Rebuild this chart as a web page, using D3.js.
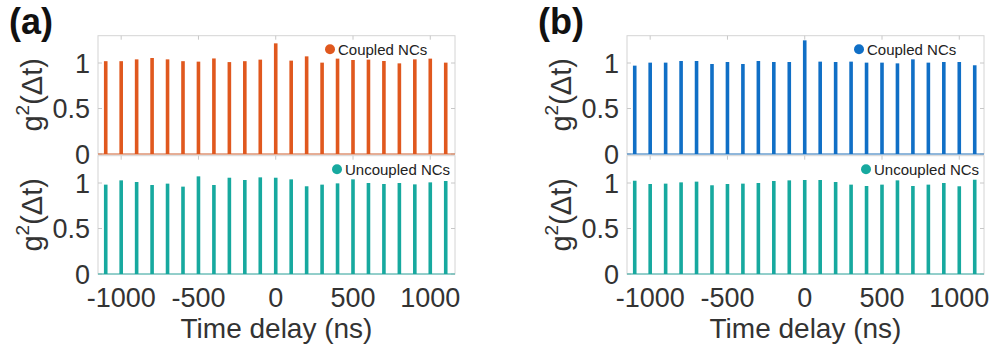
<!DOCTYPE html>
<html>
<head>
<meta charset="utf-8">
<script src="https://cdn.jsdelivr.net/npm/d3@7"></script>
<style>
  body { margin: 0; background: #fff; }
  text { font-family: "Liberation Sans", Arial, sans-serif; }
</style>
</head>
<body>
<div id="chart"></div>
<script>
// time delays of the peaks (ns)
const delays = [-1100, -1000, -900, -800, -700, -600, -500, -400, -300, -200, -100, 0,
                100, 200, 300, 400, 500, 600, 700, 800, 900, 1000, 1100]

// panel (a)
const coupledA = [1.02, 1.02, 1.04, 1.055, 1.04, 1.02, 1.015, 1.05, 1.01, 1.02, 1.037, 1.216,
                  1.026, 1.073, 1.004, 1.048, 1.033, 1.037, 1.022, 0.996, 1.04, 1.048, 1.004]
const uncoupledA = [0.982, 1.029, 1.011, 0.978, 0.993, 0.96, 1.073, 0.978, 1.058, 1.033, 1.062, 1.058,
                    1.04, 0.964, 0.982, 0.996, 1.04, 1.0, 0.989, 1.0, 0.985, 1.007, 1.022]

// panel (b)
const coupledB = [0.971, 1.004, 1.004, 1.022, 1.022, 0.989, 1.011, 0.989, 1.022, 1.011, 1.011, 1.249,
                  1.015, 1.011, 1.015, 1.004, 1.004, 0.996, 1.04, 1.004, 1.011, 1.011, 0.975]
const uncoupledB = [1.025, 0.989, 0.993, 1.007, 1.015, 0.975, 0.989, 0.993, 1.0, 1.022, 1.029, 1.033,
                    1.033, 1.011, 0.982, 0.967, 0.982, 1.029, 0.967, 0.982, 1.0, 0.964, 1.036]

const xTicks = [-1000, -500, 0, 500, 1000]
const yTicks = [0, 0.5, 1]

const width = 990
const height = 351

const svg = d3.select("#chart")
    .append("svg")
    .attr("width", width)
    .attr("height", height)

const orange = "#e0581e"
const blue = "#106fc6"
const teal = "#17a99f"

// one stem subplot
function drawAxes(g, x, y, values, color, legend, legendDx, showXLabels) {
    const x0 = x.range()[0], x1 = x.range()[1]
    const y0 = y.range()[0], y1 = y.range()[1]

    // box
    g.append("rect")
        .attr("x", x0).attr("y", y1)
        .attr("width", x1 - x0).attr("height", y0 - y1)
        .attr("fill", "none")
        .attr("stroke", "#d4d4d4")
        .attr("stroke-width", 1)

    // inside ticks
    g.selectAll(".xt")
        .data(xTicks)
        .join("line")
        .attr("x1", d => x(d)).attr("x2", d => x(d))
        .attr("y1", y0).attr("y2", y0 - 4)
        .attr("stroke", "#c8c8c8")
    g.selectAll(".xtt")
        .data(xTicks)
        .join("line")
        .attr("x1", d => x(d)).attr("x2", d => x(d))
        .attr("y1", y1).attr("y2", y1 + 4)
        .attr("stroke", "#c8c8c8")
    g.selectAll(".ytl")
        .data(yTicks)
        .join("line")
        .attr("x1", x0).attr("x2", x0 + 4)
        .attr("y1", d => y(d)).attr("y2", d => y(d))
        .attr("stroke", "#c8c8c8")
    g.selectAll(".ytr")
        .data(yTicks)
        .join("line")
        .attr("x1", x1).attr("x2", x1 - 4)
        .attr("y1", d => y(d)).attr("y2", d => y(d))
        .attr("stroke", "#c8c8c8")

    // y tick labels
    g.selectAll(".ylab")
        .data(yTicks)
        .join("text")
        .attr("x", x0 - 8)
        .attr("y", d => y(d))
        .attr("dy", "0.36em")
        .attr("text-anchor", "end")
        .attr("font-size", 27)
        .attr("fill", "#333")
        .text(d => d)

    // bars
    g.selectAll(".bar")
        .data(values)
        .join("rect")
        .attr("x", (d, i) => x(delays[i]) - 1.8)
        .attr("width", 3.6)
        .attr("y", d => y(d))
        .attr("height", d => y(0) - y(d))
        .attr("fill", color)

    // baseline
    g.append("line")
        .attr("x1", x0).attr("x2", x1)
        .attr("y1", y(0)).attr("y2", y(0))
        .attr("stroke", color)
        .attr("stroke-opacity", 0.55)
        .attr("stroke-width", 1.5)

    // legend
    const lx = x1 - legendDx
    const ly = y1 + 13.5
    g.append("circle")
        .attr("cx", lx).attr("cy", ly)
        .attr("r", 5)
        .attr("fill", color)
    g.append("text")
        .attr("x", lx + 8).attr("y", ly)
        .attr("dy", "0.36em")
        .attr("font-size", 15)
        .attr("fill", "#222")
        .text(legend)

    // y label
    const ty = (y0 + y1) / 2
    const lab = g.append("text")
        .attr("transform", `translate(${x0 - 56},${ty}) rotate(-90)`)
        .attr("text-anchor", "middle")
        .attr("font-size", 29)
        .attr("fill", "#333")
    lab.append("tspan").text("g")
    lab.append("tspan").attr("font-size", 19).attr("dy", -13).text("2")
    lab.append("tspan").attr("dy", 13).text("(Δt)")

    if (showXLabels) {
        g.selectAll(".xlab")
            .data(xTicks)
            .join("text")
            .attr("x", d => x(d))
            .attr("y", y0 + 33)
            .attr("text-anchor", "middle")
            .attr("font-size", 27)
            .attr("fill", "#333")
            .text(d => d)
        g.append("text")
            .attr("x", (x0 + x1) / 2)
            .attr("y", y0 + 64)
            .attr("text-anchor", "middle")
            .attr("font-size", 28)
            .attr("fill", "#333")
            .text("Time delay (ns)")
    }
}

function drawPanel(left, tag, coupled, uncoupled, color) {
    const g = svg.append("g")
    const x = d3.scaleLinear().domain([-1150, 1160]).range([left, left + 357])
    const yTop = d3.scaleLinear().domain([0, 1.3]).range([154, 35.7])
    const yBot = d3.scaleLinear().domain([0, 1.3]).range([274, 155.7])

    drawAxes(g.append("g"), x, yTop, coupled, color, "Coupled NCs", 125, false)
    drawAxes(g.append("g"), x, yBot, uncoupled, teal, "Uncoupled NCs", 118, true)

    g.append("text")
        .attr("x", left - 89)
        .attr("y", 34)
        .attr("font-size", 36)
        .attr("font-weight", "bold")
        .attr("fill", "#111")
        .text(tag)
}

drawPanel(98, "(a)", coupledA, uncoupledA, orange)
drawPanel(627, "(b)", coupledB, uncoupledB, blue)
</script>
</body>
</html>
